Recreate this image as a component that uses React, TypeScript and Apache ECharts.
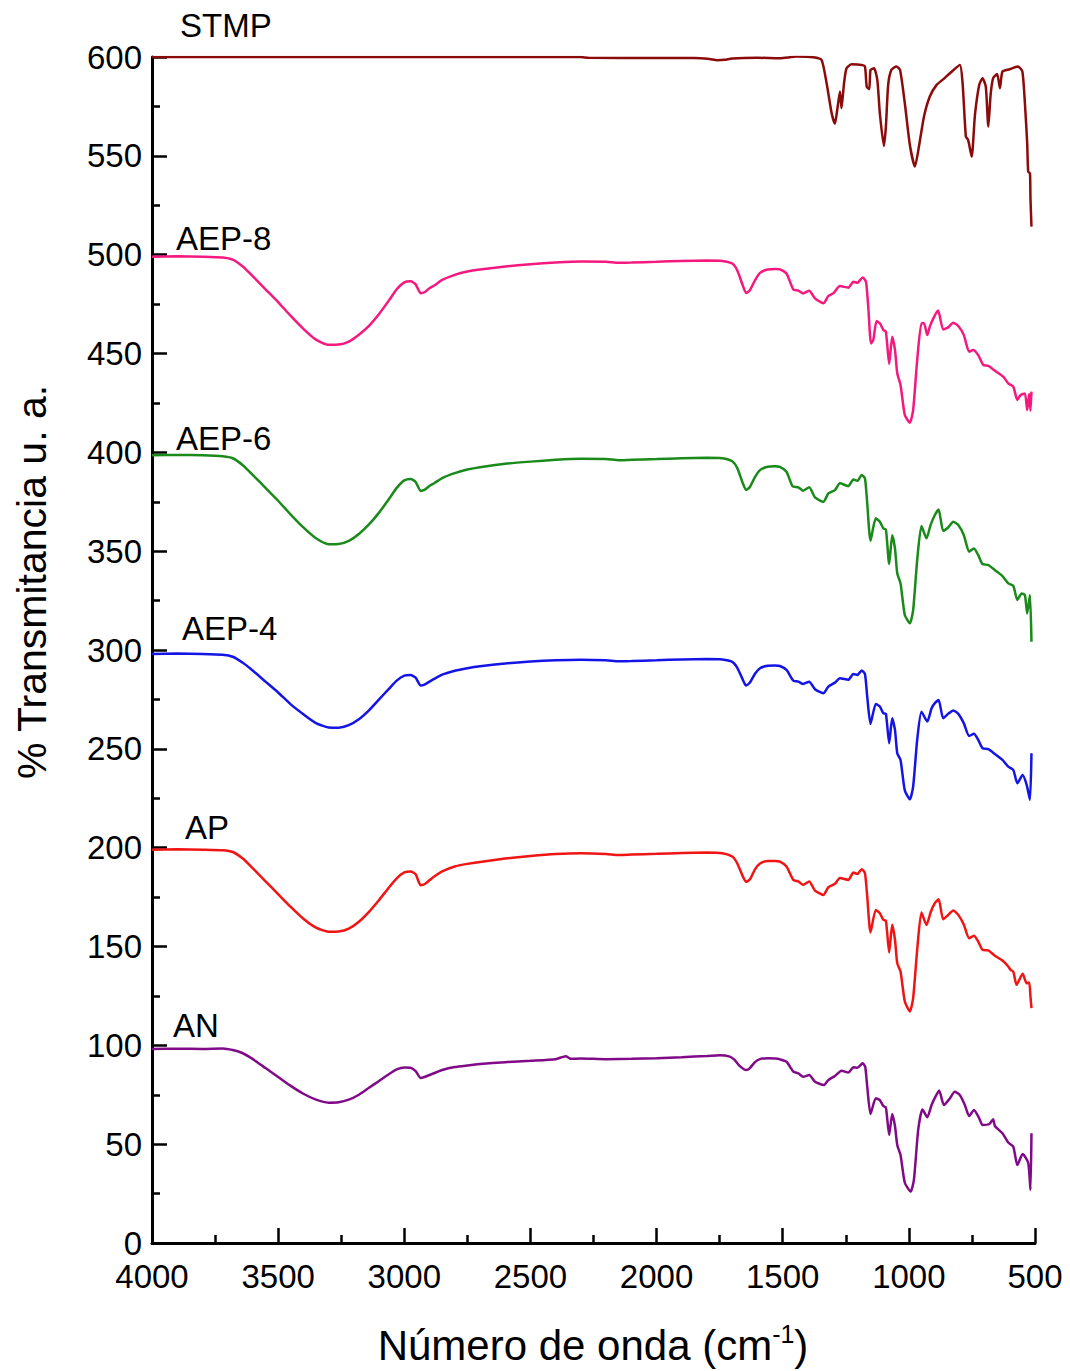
import React, { useEffect, useRef } from "react";
import * as echarts from "echarts";

const seriesNames = ["STMP", "AEP-8", "AEP-6", "AEP-4", "AP", "AN"];
const seriesColors = ["#8b0a0a", "#f5197f", "#1a8a1a", "#1414e6", "#f01414", "#800a88"];
const labelPos: [number, number][] = [[180, 25], [176, 238], [176, 438], [182, 628], [185, 827], [173, 1025]];

const stmp: [number, number][] = [
  [4000, 600], [3500, 600], [3000, 600], [2500, 600], [2300, 600], [2270, 599.6], [2000, 599.5], [1850, 599.5],
  [1790, 599], [1760, 598.4], [1730, 598.6], [1700, 599.3], [1600, 599.6], [1511, 599.4], [1445, 600.2], [1379, 599.9],
  [1346, 598.5], [1326, 586.7], [1306, 571.5], [1293, 566.2], [1284, 573.2], [1273, 582.5], [1267, 574.1], [1257, 586.7],
  [1247, 594.3], [1227, 596.3], [1187, 596.0], [1174, 595.2], [1167, 585.0], [1157, 583.7], [1152, 593.5], [1138, 594.3],
  [1125, 588.4], [1115, 571.5], [1099, 555.0], [1091, 564.8], [1082, 585.9], [1069, 593.5], [1049, 595.2], [1035, 593.5],
  [1016, 576.6], [996, 555.5], [976, 544.6], [959, 555.5], [940, 569.9], [917, 580.0], [890, 585.9], [864, 588.7],
  [837, 591.8], [798, 596.0], [787, 586.7], [774, 559.7], [765, 558.1], [751, 549.6], [738, 570.7], [721, 585.9],
  [708, 589.3], [695, 585.0], [685, 564.8], [676, 580.8], [666, 589.3], [650, 591.4], [639, 584.2], [629, 592.6],
  [600, 593.8], [580, 594.8], [567, 595.2], [550, 592.6], [540, 576.6], [531, 556.4], [527, 542.0], [520, 541.2],
  [518, 528.6], [514, 514.2]
];

const aep8: [number, number][] = [
  [4000, 499], [3900, 499.2], [3800, 499], [3720, 498.6], [3680, 497.5], [3640, 494], [3600, 489], [3550, 482.5],
  [3500, 476], [3450, 469], [3400, 462.5], [3350, 457], [3300, 454.4], [3260, 454.5], [3220, 456], [3180, 459.5],
  [3140, 464], [3100, 470], [3060, 477], [3030, 482.5], [3000, 486], [2975, 486.5], [2955, 485], [2935, 480.5],
  [2920, 481], [2900, 483], [2880, 484.5], [2850, 487.2], [2800, 489.8], [2750, 491.5], [2700, 492.5], [2600, 494],
  [2500, 495.2], [2400, 496], [2300, 496.5], [2200, 496.4], [2150, 495.9], [2100, 496], [2000, 496.4], [1900, 496.8],
  [1800, 497], [1740, 496.8], [1700, 495.5], [1680, 492], [1660, 485], [1645, 480.6], [1630, 482], [1610, 487],
  [1590, 490.8], [1560, 492.5], [1530, 492.8], [1511, 492.6], [1485, 490.5], [1458, 482.4], [1438, 481.8], [1419, 480.4],
  [1395, 481.8], [1372, 477.9], [1339, 475.4], [1319, 479.1], [1300, 480.4], [1273, 484.1], [1240, 483.3], [1220, 486.3],
  [1204, 485.8], [1183, 488.5], [1170, 486.3], [1161, 473.7], [1150, 455.1], [1141, 456.8], [1128, 466.4], [1115, 465.3],
  [1101, 461.9], [1091, 461.0], [1078, 444.7], [1066, 458.5], [1055, 451.8], [1046, 440.0], [1033, 434.1], [1016, 418.9],
  [996, 415.0], [983, 421.4], [967, 446.7], [950, 465.3], [940, 465.3], [927, 459.3], [917, 463.6], [901, 468.3],
  [884, 471.7], [864, 462.2], [844, 463.2], [824, 465.6], [804, 463.9], [782, 459.3], [761, 450.9], [745, 451.8],
  [725, 449.2], [705, 444.2], [685, 443.7], [659, 441.3], [626, 438.3], [606, 434.9], [586, 433.2], [570, 426.5],
  [557, 429.0], [540, 429.8], [531, 421.4], [523, 429.5], [518, 421.1], [514, 430.7]
];

const aep6: [number, number][] = [
  [4000, 398.5], [3900, 398.7], [3800, 398.5], [3720, 398], [3680, 397], [3640, 393.5], [3600, 388.5], [3550, 382],
  [3500, 375.5], [3450, 368.5], [3400, 362], [3350, 356.5], [3300, 353.5], [3260, 353.6], [3220, 355.2], [3180, 358.7],
  [3140, 363.5], [3100, 369.5], [3060, 376.5], [3030, 382], [3000, 385.8], [2975, 386.5], [2955, 385], [2935, 380.5],
  [2920, 381], [2900, 383], [2880, 384.5], [2850, 387], [2800, 389.5], [2750, 391.3], [2700, 392.5], [2600, 394.2],
  [2500, 395.3], [2400, 396.2], [2300, 396.7], [2200, 396.6], [2150, 396], [2100, 396.2], [2000, 396.6], [1900, 397],
  [1800, 397.2], [1740, 397], [1700, 395.5], [1680, 392], [1660, 385], [1645, 381], [1630, 382.5], [1610, 387.5],
  [1590, 391], [1560, 392.7], [1530, 393], [1511, 392.7], [1485, 390.2], [1461, 382.9], [1438, 382.3], [1419, 380.6],
  [1395, 382.3], [1372, 377.2], [1339, 375.0], [1319, 379.2], [1293, 380.9], [1273, 384.3], [1240, 382.9], [1220, 386.3],
  [1204, 385.6], [1187, 388.5], [1174, 386.8], [1165, 374.2], [1152, 355.3], [1131, 366.6], [1115, 364.9], [1101, 361.5],
  [1091, 361.0], [1078, 343.5], [1066, 358.1], [1055, 351.4], [1046, 338.8], [1033, 333.7], [1016, 317.7], [996, 313.5],
  [983, 320.2], [967, 345.5], [950, 362.7], [930, 356.5], [914, 363.2], [897, 368.3], [882, 371.1], [864, 360.3],
  [844, 362.0], [824, 364.9], [804, 363.2], [782, 358.1], [761, 349.7], [742, 351.4], [725, 348.0], [708, 343.5],
  [685, 343.0], [659, 340.4], [629, 337.4], [606, 333.7], [586, 332.4], [570, 325.3], [553, 328.6], [540, 327.8],
  [531, 318.5], [520, 327.8], [514, 304.2]
];

const aep4: [number, number][] = [
  [4000, 298], [3900, 298.2], [3800, 298], [3720, 297.6], [3680, 296.6], [3640, 293.5], [3600, 289.5], [3550, 284],
  [3500, 278.5], [3450, 272.5], [3400, 267.5], [3350, 263], [3300, 260.8], [3260, 260.7], [3220, 262], [3180, 265],
  [3140, 269.5], [3100, 275], [3060, 280.5], [3030, 284.5], [3000, 287], [2975, 287.3], [2955, 286], [2935, 282],
  [2920, 282.5], [2900, 284], [2880, 285.5], [2850, 287.5], [2800, 289.5], [2750, 290.8], [2700, 291.8], [2600, 293.2],
  [2500, 294.2], [2400, 294.8], [2300, 295.1], [2200, 294.8], [2150, 294.3], [2100, 294.4], [2000, 294.8], [1900, 295.2],
  [1800, 295.4], [1740, 295.2], [1700, 294], [1680, 291], [1660, 285.5], [1645, 282], [1630, 283.5], [1610, 288],
  [1590, 290.8], [1560, 292], [1530, 292.2], [1511, 291.9], [1485, 289.9], [1458, 284.5], [1438, 284.0], [1419, 282.8],
  [1395, 284.0], [1372, 280.1], [1339, 278.1], [1319, 281.5], [1293, 283.5], [1273, 285.7], [1240, 284.9], [1220, 287.9],
  [1204, 287.4], [1187, 289.6], [1174, 287.9], [1165, 276.4], [1152, 262.6], [1131, 272.7], [1115, 271.4], [1101, 268.0],
  [1091, 267.7], [1078, 252.8], [1066, 265.5], [1055, 259.6], [1046, 247.8], [1033, 244.4], [1016, 228.9], [996, 224.5],
  [983, 230.9], [967, 254.5], [950, 268.8], [927, 263.8], [910, 270.5], [897, 273.1], [882, 274.7], [864, 265.5],
  [844, 267.7], [824, 269.4], [804, 267.7], [782, 262.9], [761, 256.5], [742, 257.6], [725, 254.5], [708, 250.3],
  [685, 249.8], [659, 247.4], [629, 244.4], [606, 241.0], [586, 239.3], [570, 232.6], [549, 236.8], [533, 231.8],
  [520, 224.2], [514, 247.8]
];

const ap: [number, number][] = [
  [4000, 199], [3900, 199.2], [3800, 199], [3720, 198.7], [3680, 197.8], [3640, 194.5], [3600, 189.5], [3550, 183],
  [3500, 176.5], [3450, 170], [3400, 164], [3350, 159.5], [3300, 157.5], [3260, 157.6], [3220, 159], [3180, 162.5],
  [3140, 167.5], [3100, 173.5], [3060, 180], [3030, 184.5], [3000, 187.5], [2975, 188], [2955, 186.5], [2935, 181],
  [2920, 181.5], [2900, 183.5], [2880, 185.5], [2850, 188], [2800, 190.5], [2750, 191.8], [2700, 192.8], [2600, 194.5],
  [2500, 195.8], [2400, 196.8], [2300, 197.2], [2200, 196.8], [2150, 196.3], [2100, 196.5], [2000, 196.9], [1900, 197.3],
  [1800, 197.5], [1740, 197.2], [1700, 195.5], [1680, 192], [1660, 186], [1645, 182.7], [1630, 184], [1610, 189],
  [1590, 192], [1560, 193.2], [1530, 193.3], [1511, 193.0], [1485, 190.5], [1458, 183.7], [1438, 182.9], [1419, 181.2],
  [1395, 182.9], [1372, 178.3], [1339, 176.1], [1319, 180.0], [1293, 181.7], [1273, 184.6], [1240, 183.7], [1220, 187.4],
  [1204, 186.7], [1187, 189.1], [1174, 187.1], [1165, 175.3], [1152, 157.1], [1131, 168.5], [1115, 166.8], [1101, 163.5],
  [1091, 163.1], [1078, 147.0], [1066, 161.0], [1055, 153.4], [1046, 141.6], [1033, 137.3], [1016, 122.2], [996, 117.1],
  [983, 123.9], [967, 148.3], [950, 167.2], [930, 160.9], [914, 167.2], [897, 171.9], [882, 173.9], [864, 163.8],
  [844, 166.0], [824, 168.2], [804, 166.0], [782, 161.0], [761, 154.2], [742, 155.4], [725, 152.5], [708, 148.3],
  [685, 148.0], [659, 145.3], [629, 142.9], [606, 139.9], [597, 138.2], [586, 137.3], [573, 130.6], [549, 136.2],
  [533, 131.4], [523, 131.8], [518, 124.7], [514, 118.8]
];

const an: [number, number][] = [
  [4000, 98.2], [3900, 98.3], [3800, 98.2], [3720, 98.4], [3680, 97.6], [3640, 96], [3600, 93], [3550, 88.5],
  [3500, 84], [3450, 79.5], [3400, 75.5], [3350, 72.5], [3300, 71], [3260, 71.2], [3220, 72.5], [3180, 75],
  [3140, 78.5], [3100, 82], [3060, 85.5], [3030, 87.8], [3000, 88.8], [2975, 88.7], [2955, 87], [2935, 83.5],
  [2920, 84], [2900, 85], [2880, 86], [2850, 87.5], [2800, 89], [2750, 89.8], [2700, 90.5], [2600, 91.5],
  [2500, 92.2], [2400, 93], [2360, 94.5], [2340, 93.2], [2300, 93.3], [2200, 93], [2100, 93.2], [2000, 93.5],
  [1900, 94], [1800, 94.6], [1750, 95], [1710, 94.3], [1690, 92.5], [1670, 89.5], [1645, 87.5], [1630, 88.5],
  [1610, 91.5], [1590, 93], [1560, 93.5], [1530, 93.3], [1511, 92.9], [1485, 91.7], [1458, 86.7], [1438, 85.8],
  [1419, 84.1], [1395, 85.0], [1372, 81.6], [1337, 79.9], [1319, 82.5], [1293, 84.5], [1267, 87.2], [1240, 86.2],
  [1220, 88.9], [1204, 88.7], [1183, 90.9], [1173, 89.2], [1165, 79.1], [1152, 65.3], [1131, 73.2], [1115, 72.3],
  [1101, 69.3], [1091, 68.6], [1078, 54.6], [1066, 65.3], [1055, 59.2], [1046, 49.6], [1033, 44.5], [1016, 30.5],
  [993, 26.0], [980, 31.9], [963, 57.2], [946, 67.6], [927, 63.6], [910, 69.8], [893, 74.4], [880, 77.1],
  [861, 69.8], [840, 72.7], [818, 76.5], [798, 74.9], [778, 69.8], [761, 64.2], [742, 67.3], [721, 63.1],
  [708, 59.7], [681, 60.2], [666, 62.6], [659, 59.2], [629, 55.5], [606, 50.8], [586, 48.7], [570, 39.5],
  [549, 45.0], [527, 40.6], [518, 26.8], [514, 55.5]
];

const seriesData = [stmp, aep8, aep6, aep4, ap, an];

const xAxisTitle = "Número de onda (cm";
const yAxisTitle = "% Transmitancia u. a.";
const FONT = "'Liberation Sans', Arial, sans-serif";

export default function App() {
  const ref = useRef<HTMLDivElement>(null);
  useEffect(() => {
    document.body.style.margin = "0";
    if (!ref.current) return;
    const chart = echarts.init(ref.current, undefined, { renderer: "svg" });
    const axisLine = { show: true, lineStyle: { color: "#000", width: 3 } };
    const option: any = {
      animation: false,
      backgroundColor: "#fff",
      grid: { left: 152, right: 35, top: 57, bottom: 128, containLabel: false },
      xAxis: {
        type: "value", min: 500, max: 4000, interval: 500, inverse: true,
        axisLine, splitLine: { show: false },
        axisTick: { show: true, inside: true, length: 15, lineStyle: { color: "#000", width: 2.5 } },
        minorTick: { show: true, splitNumber: 2, length: 8, lineStyle: { color: "#000", width: 2.5 } },
        axisLabel: { color: "#000", fontSize: 33, fontFamily: FONT, margin: 17, formatter: (v: number) => String(v) },
      },
      yAxis: {
        type: "value", min: 0, max: 600, interval: 50,
        axisLine, splitLine: { show: false },
        axisTick: { show: true, inside: true, length: 15, lineStyle: { color: "#000", width: 2.5 } },
        minorTick: { show: true, splitNumber: 2, length: 8, lineStyle: { color: "#000", width: 2.5 } },
        axisLabel: { color: "#000", fontSize: 33, fontFamily: FONT, margin: 10, formatter: (v: number) => String(v) },
      },
      series: seriesNames.map((name, i) => ({
        name, type: "line", data: seriesData[i], showSymbol: false, smooth: 0.2,
        lineStyle: { color: seriesColors[i], width: 2.5 }, z: 3,
      })),
      graphic: [
        ...seriesNames.map((name, i) => ({
          type: "text", x: labelPos[i][0], y: labelPos[i][1],
          style: { text: name, fontSize: 33, fontFamily: FONT, fill: "#000", textAlign: "left", textVerticalAlign: "middle" },
        })),
        {
          type: "text", x: 32, y: 582, rotation: Math.PI / 2,
          style: { text: yAxisTitle, fontSize: 41, fontFamily: FONT, fill: "#000", textAlign: "center", textVerticalAlign: "middle" },
        },
        {
          type: "text", x: 593, y: 1345,
          style: {
            text: "{a|" + xAxisTitle + "}{s|-1}{a|)}",
            textAlign: "center", textVerticalAlign: "middle",
            rich: {
              a: { fontSize: 42, fontFamily: FONT, fill: "#000", lineHeight: 48 },
              s: { fontSize: 25, fontFamily: FONT, fill: "#000", verticalAlign: "top", lineHeight: 48, padding: [0, 0, 14, 0] },
            },
          },
        },
      ],
    };
    chart.setOption(option);
    return () => chart.dispose();
  }, []);
  return <div ref={ref} style={{ width: 1070, height: 1371 }} />;
}
